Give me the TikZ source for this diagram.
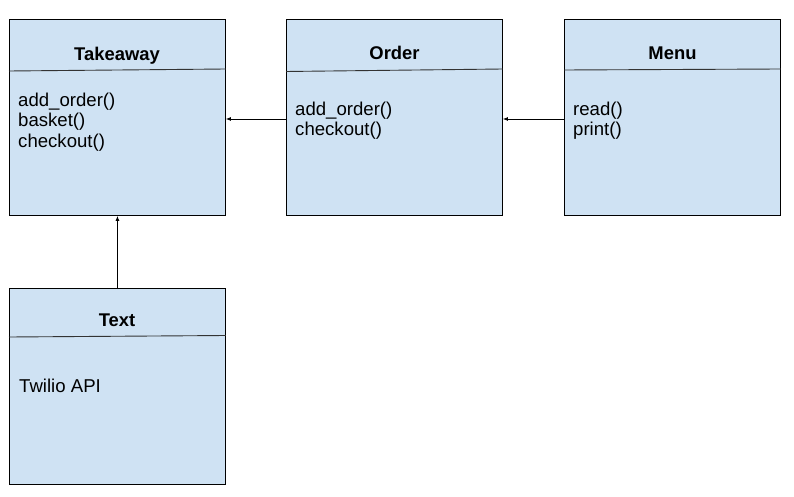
\documentclass[tikz,border=0pt]{standalone}
\usepackage{fontspec}
\setmainfont{Liberation Sans}
\usetikzlibrary{arrows.meta}
\definecolor{boxfill}{HTML}{CFE2F3}
\begin{document}
\begin{tikzpicture}[x=1pt,y=-1pt,
  umlbox/.style={draw=black, line width=0.9pt, fill=boxfill, minimum width=216pt, minimum height=196pt, anchor=north west, inner sep=0pt},
  umltitle/.style={font=\fontsize{18.4}{21}\selectfont\bfseries, anchor=base, inner sep=0pt},
  umlbody/.style={font=\fontsize{18.6}{21}\selectfont, anchor=base west, inner sep=0pt},
  divider/.style={line width=0.9pt, draw=black!80},
  conn/.style={line width=0.8pt, -{Latex[length=5pt,width=4pt]}}]
\useasboundingbox (0,0) rectangle (794,497);
% boxes
\node[umlbox] (takeaway) at (9,19) {};
\node[umlbox] (order) at (286,19) {};
\node[umlbox] (menu) at (564,19) {};
\node[umlbox] (text) at (9,288) {};
% titles
\node[umltitle] (takeawayT) at (117,60.5) {Takeaway};
\node[umltitle] (orderT) at (394.5,59.5) {Order};
\node[umltitle] (menuT) at (672.5,59.5) {Menu};
\node[umltitle] (textT) at (117,326) {Text};
% dividers
\draw[divider] ([yshift=-52pt]takeaway.north west) -- ([yshift=-50pt]takeaway.north east);
\draw[divider] ([yshift=-52.5pt]order.north west) -- ([yshift=-50pt]order.north east);
\draw[divider] ([yshift=-51pt]menu.north west) -- ([yshift=-50pt]menu.north east);
\draw[divider] ([yshift=-49pt]text.north west) -- ([yshift=-47.5pt]text.north east);
% bodies
\node[umlbody] (t1) at (18,106.5) {add\_order()};
\node[umlbody] (t2) at (18,127) {basket()};
\node[umlbody] (t3) at (18,147.5) {checkout()};
\node[umlbody] (o1) at (295,115.5) {add\_order()};
\node[umlbody] (o2) at (295,136) {checkout()};
\node[umlbody] (m1) at (573,115.5) {read()};
\node[umlbody] (m2) at (573,136) {print()};
\node[umlbody] (x1) at (19,392.5) {Twilio API};
% connectors
\draw[conn] (order.west |- 0,119) -- (takeaway.east |- 0,119);
\draw[conn] (menu.west |- 0,119) -- (order.east |- 0,119);
\draw[conn] (text.north) -- (takeaway.south);
\end{tikzpicture}
\end{document}
